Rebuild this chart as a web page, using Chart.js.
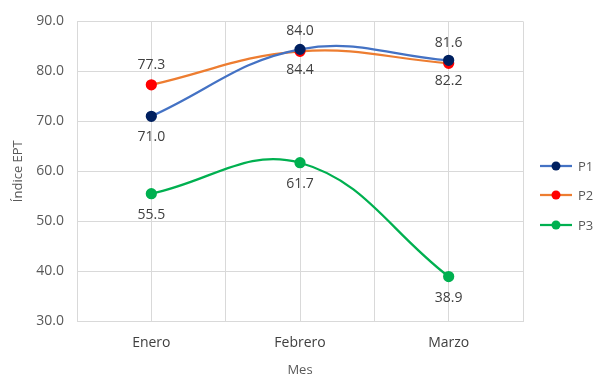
<!DOCTYPE html>
<html>
<head>
<meta charset="utf-8">
<script src="https://cdn.jsdelivr.net/npm/chart.js@4/dist/chart.umd.min.js"></script>
<style>
  html, body { margin: 0; padding: 0; background: #ffffff; }
  canvas { display: block; }
</style>
</head>
<body>
<canvas id="c" width="599" height="377"></canvas>
<script>
// Meses y valores del índice EPT por grupo
const categories = ['Enero', 'Febrero', 'Marzo'];
const seriesNames = ['P1', 'P2', 'P3'];
const p1 = [71.0, 84.4, 82.2];
const p2 = [77.3, 84.0, 81.6];
const p3 = [55.5, 61.7, 38.9];
const yTicks = [30, 40, 50, 60, 70, 80, 90];

const FONT = '"Open Sans", "Liberation Sans", sans-serif';
const TEXT = '#595959';
const GRID = '#d9d9d9';

const styles = [
  { line: '#4472C4', marker: '#002060', label: 'below' },
  { line: '#ED7D31', marker: '#FF0000', label: 'above' },
  { line: '#00B050', marker: '#00B050', label: 'below' }
];

const values = [p1, p2, p3];

const datasets = values.map((vals, s) => ({
  label: seriesNames[s],
  data: vals.map((v, i) => ({ x: i, y: v })),
  borderColor: styles[s].line,
  backgroundColor: styles[s].marker,
  pointBackgroundColor: styles[s].marker,
  pointBorderColor: styles[s].marker,
  pointRadius: 4.5,
  pointHoverRadius: 4.5,
  borderWidth: 2.25,
  tension: 0.4,
  fill: false
}));

// Etiquetas de valor encima o debajo de cada punto
const valueLabels = {
  id: 'valueLabels',
  afterDatasetsDraw(chart) {
    const ctx = chart.ctx;
    ctx.save();
    ctx.font = '14px ' + FONT;
    ctx.fillStyle = '#404040';
    ctx.textAlign = 'center';
    ctx.textBaseline = 'middle';
    chart.data.datasets.forEach((ds, s) => {
      const meta = chart.getDatasetMeta(s);
      meta.data.forEach((pt, i) => {
        const v = values[s][i];
        const dy = styles[s].label === 'above' ? -20 : 21;
        ctx.fillText(v.toFixed(1), pt.x, pt.y + dy);
      });
    });
    ctx.restore();
  }
};

// Leyenda a la derecha: línea con marcador y nombre de la serie
const sideLegend = {
  id: 'sideLegend',
  afterDraw(chart) {
    const ctx = chart.ctx;
    ctx.save();
    const x0 = 540, x1 = 572, tx = 578;
    const ys = [166, 195, 225];
    ctx.font = '13px ' + FONT;
    ctx.textAlign = 'left';
    ctx.textBaseline = 'middle';
    seriesNames.forEach((name, s) => {
      const y = ys[s];
      ctx.strokeStyle = styles[s].line;
      ctx.lineWidth = 2.25;
      ctx.beginPath();
      ctx.moveTo(x0, y);
      ctx.lineTo(x1, y);
      ctx.stroke();
      ctx.fillStyle = styles[s].marker;
      ctx.beginPath();
      ctx.arc((x0 + x1) / 2, y, 4.5, 0, Math.PI * 2);
      ctx.fill();
      ctx.fillStyle = TEXT;
      ctx.fillText(name, tx, y + 1);
    });
    ctx.restore();
  }
};

new Chart(document.getElementById('c'), {
  type: 'line',
  data: { datasets },
  options: {
    responsive: false,
    animation: false,
    events: [],
    layout: { padding: { top: 18, right: 76, left: 0, bottom: 0 } },
    plugins: {
      legend: { display: false },
      tooltip: { enabled: false }
    },
    scales: {
      x: {
        type: 'linear',
        min: -0.5,
        max: 2.5,
        afterBuildTicks(scale) {
          const t = [];
          for (let k = -1; k <= 5; k++) t.push({ value: k / 2 });
          scale.ticks = t;
        },
        afterFit(scale) { scale.height = 56; },
        grid: { color: GRID, lineWidth: 1, drawTicks: false },
        border: { color: GRID },
        ticks: {
          autoSkip: false,
          maxRotation: 0,
          padding: 14,
          color: '#404040',
          font: { family: FONT, size: 14 },
          callback: v => Number.isInteger(v) ? categories[v] : ''
        },
        title: {
          display: true,
          text: 'Mes',
          color: TEXT,
          font: { family: FONT, size: 13, lineHeight: 1 },
          padding: { top: 0, bottom: 0 }
        }
      },
      y: {
        min: 30,
        max: 90,
        afterBuildTicks(scale) {
          scale.ticks = yTicks.map(v => ({ value: v }));
        },
        afterFit(scale) { scale.width = 77; },
        grid: { color: GRID, lineWidth: 1, drawTicks: false },
        border: { color: GRID },
        ticks: {
          padding: 13,
          color: TEXT,
          font: { family: FONT, size: 14 },
          callback: v => Number(v).toFixed(1)
        },
        title: {
          display: true,
          text: 'Índice EPT',
          color: TEXT,
          font: { family: FONT, size: 13 },
          padding: { top: 10, bottom: 0 }
        }
      }
    }
  },
  plugins: [valueLabels, sideLegend]
});
</script>
</body>
</html>
